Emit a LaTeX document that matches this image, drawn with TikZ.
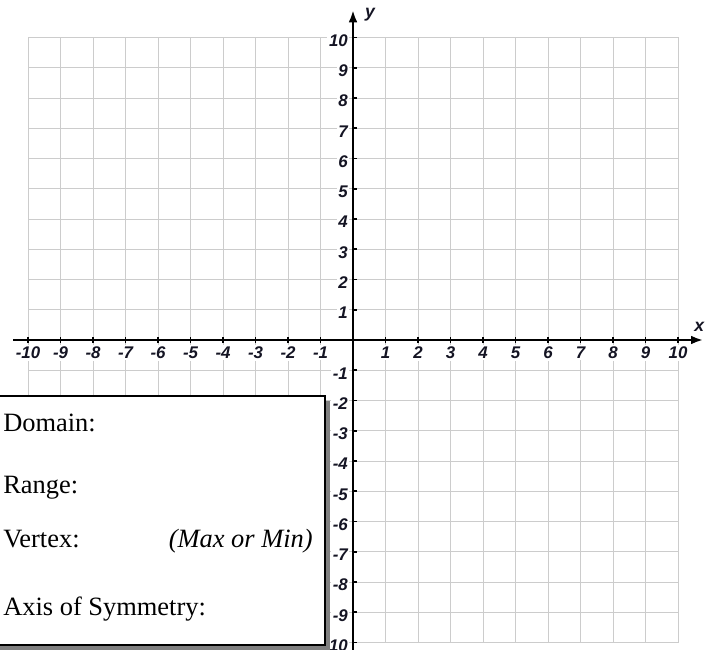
\documentclass[tikz,border=0pt]{standalone}
\usepackage{fontspec}
\setmainfont{Liberation Serif}
\newfontfamily\axisfont{Liberation Sans}
\usetikzlibrary{arrows.meta}
\usepackage{xcolor}
\definecolor{gridgray}{RGB}{204,204,204}
\definecolor{shadowgray}{RGB}{128,128,128}
\definecolor{numink}{RGB}{20,20,35}

\tikzset{
  axnum/.style={font=\axisfont\bfseries\itshape\fontsize{12}{12}\selectfont, text=numink,
                fill=white, inner sep=1.2pt},
  xnum/.style={axnum, anchor=north},
  ynum/.style={axnum, anchor=east},
  axlet/.style={font=\axisfont\bfseries\itshape\fontsize{12.5}{12.5}\selectfont, text=numink, inner sep=0pt},
  infotext/.style={font=\fontsize{18.8}{22}\selectfont, anchor=base west, inner sep=0pt},
}

\begin{document}
\begin{tikzpicture}[x=0.8125cm, y=0.75625cm, >=Latex]
\useasboundingbox (-10.862,-10.215) rectangle (11.292,11.240);
% grid, one line per unit
\foreach \i in {-10,...,10} {
  \draw[gridgray, line width=0.7pt] (\i,-10) -- (\i,10);
  \draw[gridgray, line width=0.7pt] (-10,\i) -- (10,\i);
}
% numbers on the axes
\foreach \i [count=\k] in {-10,...,-1,1,2,...,10} {
  \node[xnum] (xn\k) at (\i,-0.17) {\i};
  \node[ynum] (yn\k) at (-0.1,\i-0.1) {\i};
}
% axes and ticks
\coordinate (xl) at (-10.46,0);
\coordinate (xr) at (10.77,0);
\coordinate (yb) at (0,-10.4);
\coordinate (yt) at (0,10.9);
\draw[line width=1.6pt, -{Latex[length=3mm,width=2.2mm]}] (xl) -- (xr);
\draw[line width=1.6pt, -{Latex[length=3mm,width=2.2mm]}] (yb) -- (yt);
\foreach \i in {-10,...,-1,1,2,...,10} {
  \draw[line width=1.2pt] (\i,-0.1) -- (\i,0.1);
  \draw[line width=1.2pt] (0,\i) -- (0.13,\i);
}
\node[axlet] (xlab) at (10.65,0.43) {x};
\node[axlet] (ylab) at (0.523,10.74) {y};
% answer box with shadow
\fill[shadowgray] (-11.5,-10.248) rectangle (-0.708,-2.016);
\draw[fill=white, line width=1.3pt] (-11.5,-10.083) rectangle (-0.862,-1.851);
\node[infotext] (dom) at (-10.77,-3.041) {Domain:};
\node[infotext] (rng) at (-10.77,-5.058) {Range:};
\node[infotext] (vtx) at (-10.77,-6.843) {Vertex:};
\node[infotext, anchor=base east] (maxmin) at (-1.231,-6.843) {\itshape (Max or Min)};
\node[infotext] (aos) at (-10.77,-9.091) {Axis of Symmetry:};
\end{tikzpicture}
\end{document}
